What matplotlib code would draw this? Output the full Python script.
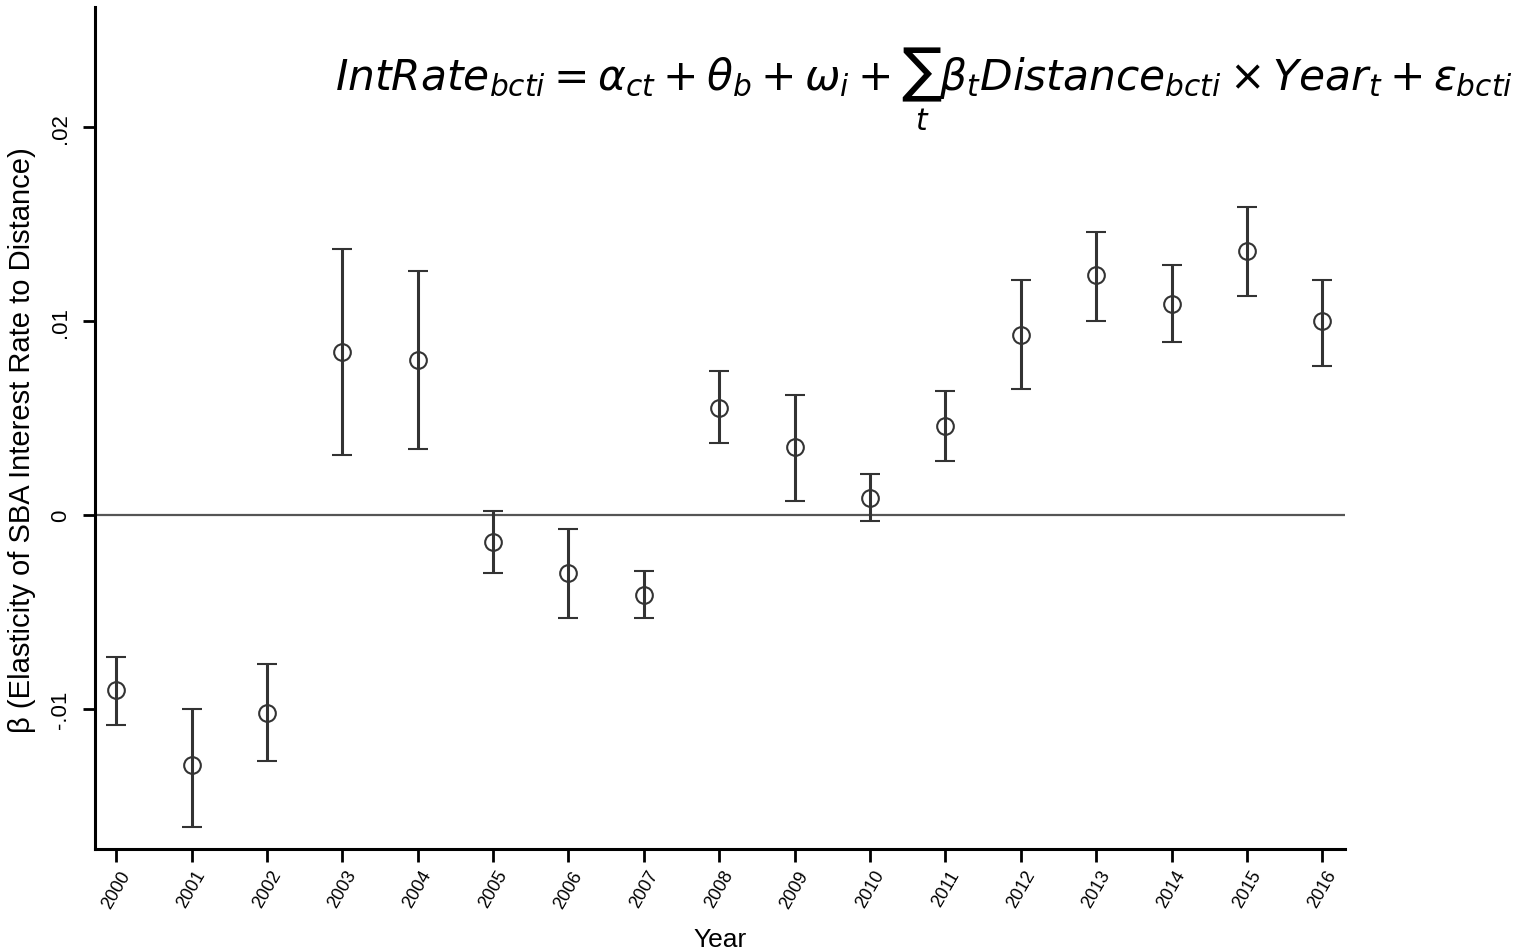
import numpy as np
import matplotlib
matplotlib.use("Agg")
import matplotlib.pyplot as plt

# --- DATA ---
years = list(range(2000, 2017))
beta = [-0.0090, -0.0129, -0.0102, 0.0084, 0.0080, -0.0014, -0.0030, -0.0041,
        0.0055, 0.0035, 0.0009, 0.0046, 0.0093, 0.0124, 0.0109, 0.0136, 0.0100]
ci_upper = [-0.0073, -0.0100, -0.0077, 0.0137, 0.0126, 0.0002, -0.0007, -0.0029,
            0.0074, 0.0062, 0.0021, 0.0064, 0.0121, 0.0146, 0.0129, 0.0159, 0.0121]
ci_lower = [-0.0108, -0.0161, -0.0127, 0.0031, 0.0034, -0.0030, -0.0053, -0.0053,
            0.0037, 0.0007, -0.0003, 0.0028, 0.0065, 0.0100, 0.0089, 0.0113, 0.0077]
ytick_vals = [-0.01, 0, 0.01, 0.02]
ytick_labels = ["-.01", "0", ".01", ".02"]

plt.rcParams['font.family'] = ['Liberation Sans', 'DejaVu Sans']
plt.rcParams['mathtext.fontset'] = 'dejavusans'

beta = np.array(beta)
yerr = [beta - np.array(ci_lower), np.array(ci_upper) - beta]

fig = plt.figure(figsize=(15.38, 9.53), dpi=100)
ax = fig.add_axes([0.0618, 0.108, 0.8127, 0.8836])

ax.axhline(0, color='#555555', linewidth=1.6, zorder=1)
ax.errorbar(years, beta, yerr=yerr, fmt='o', color='#333333', ecolor='#333333',
            elinewidth=2.2, capsize=7, capthick=2.2, markersize=12,
            markerfacecolor='none', markeredgewidth=1.5, zorder=3)

ax.set_xlim(1999.72, 2016.3)
ax.set_ylim(-0.01722, 0.02619)

ax.set_xticks(years)
ax.set_xticklabels([str(y) for y in years], rotation=60, fontsize=13,
                   ha='center', va='top')
ax.set_yticks(ytick_vals)
ax.set_yticklabels(ytick_labels, rotation=90, fontsize=16, va='center')

for s in ['top', 'right']:
    ax.spines[s].set_visible(False)
for s in ['left', 'bottom']:
    ax.spines[s].set_linewidth(2.2)
ax.tick_params(axis='both', length=9, width=2, color='black')
ax.tick_params(axis='x', pad=4)
ax.tick_params(axis='y', pad=8)

ax.set_xlabel("Year", fontsize=19)
ax.xaxis.set_label_coords(0.5, -0.092)
ax.set_ylabel(r"β (Elasticity of SBA Interest Rate to Distance)", fontsize=21)
ax.yaxis.set_label_coords(-0.047, 0.487)

fig.text(0.218, 0.907,
         r"$IntRate_{bcti} = \alpha_{ct} + \theta_b + \omega_i + \sum_t \beta_t Distance_{bcti} \times Year_t + \epsilon_{bcti}$",
         fontsize=30.5, ha='left', va='center')

fig.savefig("out.png", dpi=100)
